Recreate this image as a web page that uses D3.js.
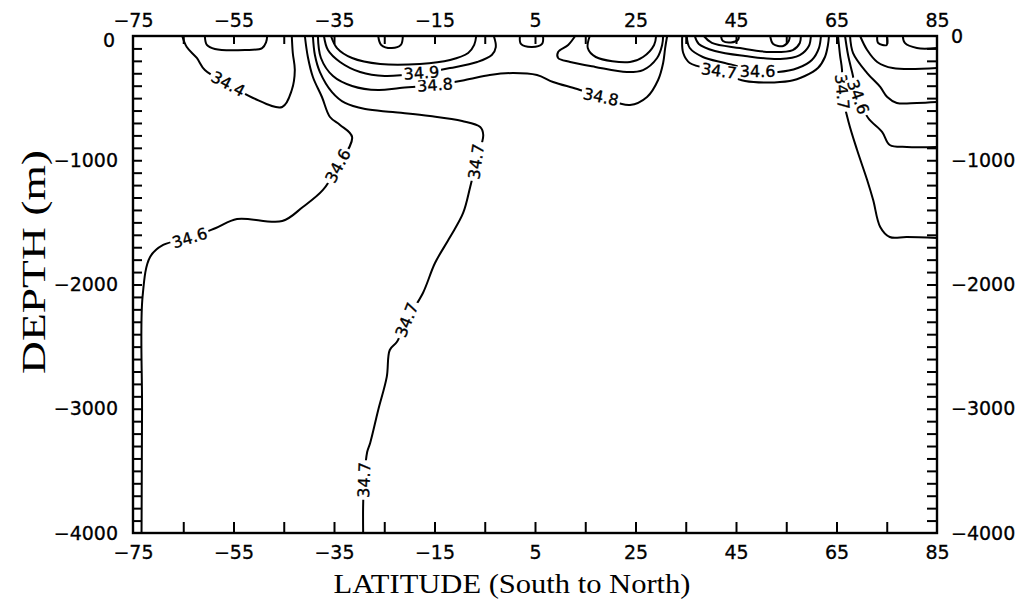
<!DOCTYPE html>
<html>
<head>
<meta charset="utf-8">
<script src="https://cdn.jsdelivr.net/npm/d3@7"></script>
<style>
  html, body { margin: 0; padding: 0; background: #fff; }
  svg { display: block; }
</style>
</head>
<body>
<svg id="chart" width="1025" height="606"></svg>
<script>
// Meridional section of salinity, contoured every 0.1
const latDomain = [-75, 85];
const depthDomain = [-4000, 0];
const latLabelTicks = [-75, -55, -35, -15, 5, 25, 45, 65, 85];
const latMinorTicks = d3.range(-65, 85, 10);
const depthLabelTicks = [0, -1000, -2000, -3000, -4000];
const depthMinorTicks = d3.range(-100, -4000, -100);

// Contour polylines as [latitude, depth (m)]
const c346South = [[-73.3,-4000],[-73.2,-3000],[-73.1,-2100],[-71.6,-1779],[-69.0,-1682],[-63.7,-1626],[-58.5,-1545],[-54.3,-1473],[-45.3,-1489],[-41.2,-1376],[-37.2,-1239],[-34.2,-1046],[-31.4,-813],[-33.8,-716],[-35.8,-652],[-37.4,-491],[-39.2,-330],[-40.2,-169],[-40.8,0]];
const c344South = [[-65.2,0],[-64.3,-89],[-62.3,-177],[-60.7,-274],[-56.1,-386],[-51.1,-499],[-45.3,-571],[-43.4,-435],[-42.8,-274],[-43.2,-137],[-43.4,0]];
const cCellA = [[-60.7,0],[-60.3,-72],[-58.7,-105],[-52.7,-113],[-49.3,-97],[-48.5,-48],[-48.3,0]];
const c347Main = [[-39.2,0],[-38.8,-153],[-37.8,-290],[-35.4,-451],[-32.8,-539],[-28.8,-588],[-23.3,-612],[-15.9,-644],[-9.5,-684],[-5.9,-732],[-5.3,-797],[-6.7,-1010],[-7.9,-1215],[-9.3,-1424],[-11.9,-1618],[-14.9,-1827],[-17.3,-2068],[-20.5,-2286],[-22.5,-2463],[-23.9,-2527],[-24.5,-2744],[-26.2,-3010],[-27.8,-3275],[-28.4,-3348],[-29.0,-3573],[-29.2,-3774],[-29.2,-4000]];
const c348 = [[-38.2,0],[-37.6,-177],[-35.2,-322],[-31.4,-402],[-26.2,-435],[-21.9,-418],[-14.9,-394],[-8.9,-354],[-4.0,-314],[0.6,-298],[5.4,-314],[8.6,-370],[13.4,-427],[18.1,-491],[23.9,-555],[27.3,-491],[29.5,-354],[30.5,-217],[30.9,-97],[31.3,0]];
const c349 = [[-37.0,0],[-36.2,-113],[-33.8,-209],[-29.8,-290],[-24.9,-322],[-17.6,-298],[-11.9,-258],[-6.5,-209],[-3.6,-153],[-2.8,-89],[-3.2,0]];
const c350 = [[-35.6,0],[-34.4,-97],[-31.4,-177],[-25.8,-225],[-17.9,-225],[-11.9,-193],[-8.3,-137],[-7.1,-72],[-6.7,0]];
const cCellB = [[-26.2,0],[-25.6,-72],[-23.5,-97],[-21.7,-72],[-21.3,0]];
const cCellC = [[2.0,0],[2.2,-64],[4.4,-89],[6.4,-64],[6.6,0]];
const cCellD = [[13.0,0],[11.6,-72],[9.6,-129],[9.6,-177],[12.0,-209],[17.0,-249],[23.3,-290],[26.5,-274],[29.3,-177],[30.3,-72],[30.5,0]];
const cCellE = [[15.9,0],[15.5,-97],[17.1,-169],[23.9,-209],[26.5,-169],[28.7,-72],[29.1,0]];
const c347North = [[34.3,0],[34.5,-137],[35.8,-217],[41.6,-282],[46.8,-362],[55.7,-362],[58.7,-322],[61.3,-258],[62.7,-169],[63.3,-72],[63.5,0]];
const c346North = [[35.2,0],[35.8,-97],[38.4,-169],[42.8,-217],[49.3,-282],[53.4,-290],[57.3,-258],[60.1,-193],[61.5,-97],[61.9,0]];
const cNestA = [[36.8,0],[37.6,-64],[40.8,-121],[46.8,-161],[53.8,-185],[57.7,-153],[59.5,-80],[59.9,0]];
const cNestB = [[38.6,0],[40.2,-56],[45.8,-97],[51.8,-129],[56.3,-113],[57.7,-56],[57.9,0]];
const cCellF = [[42.0,0],[42.4,-40],[44.0,-52],[45.4,-30],[45.6,0]];
const cCellG = [[51.8,0],[52.4,-64],[54.4,-80],[55.5,-40],[55.7,0]];
const c347Arctic = [[65.3,0],[65.7,-153],[66.1,-274],[66.1,-451],[67.4,-692],[69.1,-918],[71.1,-1159],[72.3,-1320],[73.7,-1537],[75.6,-1618],[79.0,-1618],[85,-1626]];
const c346Arctic = [[66.7,0],[67.3,-153],[68.1,-290],[69.3,-491],[71.3,-660],[74.1,-773],[75.6,-877],[79.0,-893],[85,-893]];
const c345Arctic = [[67.7,0],[68.3,-137],[71.1,-298],[73.7,-410],[75.1,-491],[77.0,-539],[81.0,-539],[85,-531]];
const c344Arctic = [[69.7,0],[71.1,-113],[73.1,-209],[76.2,-258],[85,-258]];
const cCellH = [[73.1,0],[73.3,-56],[75.0,-72],[75.0,0]];
const c343Arctic = [[78.2,0],[78.6,-56],[81.0,-97],[85,-97]];

const contourLines = [
  c346South, c344South, cCellA, c347Main, c348, c349, c350, cCellB, cCellC,
  cCellD, cCellE, c347North, c346North, cNestA, cNestB, cCellF, cCellG,
  c347Arctic, c346Arctic, c345Arctic, c344Arctic, cCellH, c343Arctic
];

// Inline contour labels: [latitude, depth, text, rotation in degrees]
const contourLabels = [
  [-63.7, -1626, "34.6", -17],
  [-34.2, -1046, "34.6", -62],
  [-56.1, -386, "34.4", 28],
  [-6.7, -1010, "34.7", -82],
  [-20.5, -2286, "34.7", -68],
  [-29.0, -3573, "34.7", -88],
  [-14.9, -394, "34.8", -4],
  [18.1, -491, "34.8", 12],
  [-17.6, -298, "34.9", -4],
  [41.6, -282, "34.7", 8],
  [49.3, -282, "34.6", 0],
  [66.1, -451, "34.7", 85],
  [69.3, -491, "34.6", 70]
];

const svg = d3.select("#chart");
const x = d3.scaleLinear().domain(latDomain).range([133, 937]);
const y = d3.scaleLinear().domain(depthDomain).range([533, 36]);

const line = d3.line()
  .x(d => x(d[0]))
  .y(d => y(d[1]))
  .curve(d3.curveCatmullRom.alpha(0.5));

// contour lines
svg.append("g")
  .selectAll("path")
  .data(contourLines)
  .join("path")
  .attr("d", line)
  .attr("fill", "none")
  .attr("stroke", "#000")
  .attr("stroke-width", 2)
  .attr("stroke-linejoin", "round")
  .attr("stroke-linecap", "round");

// contour labels with a blank backing that breaks the line
const labelSize = 16;
const labels = svg.append("g")
  .selectAll("g")
  .data(contourLabels)
  .join("g")
  .attr("transform", d => `translate(${x(d[0])},${y(d[1])}) rotate(${d[3]})`);
labels.append("text")
  .attr("text-anchor", "middle")
  .attr("dominant-baseline", "central")
  .attr("font-family", "DejaVu Sans, sans-serif")
  .attr("font-size", labelSize)
  .attr("fill", "#000")
  .attr("stroke", "#000")
  .attr("stroke-width", 0.35)
  .text(d => d[2]);
labels.each(function () {
  const g = d3.select(this);
  const bb = g.select("text").node().getBBox();
  g.insert("rect", "text")
    .attr("x", bb.x - 2)
    .attr("y", -labelSize * 0.45)
    .attr("width", bb.width + 4)
    .attr("height", labelSize * 0.9)
    .attr("fill", "#fff");
});

// axes
const tickFont = "DejaVu Sans, sans-serif";
const tickSize = 19;
function styleAxis(g) {
  g.select(".domain").remove();
  g.selectAll(".tick line").attr("stroke", "#000").attr("stroke-width", 2);
  g.selectAll(".tick text").attr("fill", "#000").attr("stroke", "#000").attr("stroke-width", 0.3);
  g.attr("font-family", tickFont).attr("font-size", tickSize);
}

// minor ticks pointing into the frame
svg.append("g").attr("transform", "translate(0,533)")
  .call(d3.axisBottom(x).tickValues(latMinorTicks).tickSize(-11).tickFormat(""))
  .call(styleAxis);
svg.append("g").attr("transform", "translate(0,36)")
  .call(d3.axisTop(x).tickValues(latMinorTicks).tickSize(-8).tickFormat(""))
  .call(styleAxis);
svg.append("g").attr("transform", "translate(133,0)")
  .call(d3.axisLeft(y).tickValues(depthMinorTicks).tickSize(-9).tickFormat(""))
  .call(styleAxis);
svg.append("g").attr("transform", "translate(937,0)")
  .call(d3.axisRight(y).tickValues(depthMinorTicks).tickSize(-10).tickFormat(""))
  .call(styleAxis);

// labelled ticks
svg.append("g").attr("transform", "translate(0,533)")
  .call(d3.axisBottom(x).tickValues(latLabelTicks).tickSize(0).tickPadding(13).tickFormat(d3.format("d")))
  .call(styleAxis);
svg.append("g").attr("transform", "translate(0,36)")
  .call(d3.axisTop(x).tickValues(latLabelTicks).tickSize(0).tickPadding(9).tickFormat(d3.format("d")))
  .call(styleAxis);
const leftLabels = svg.append("g").attr("transform", "translate(133,0)")
  .call(d3.axisLeft(y).tickValues(depthLabelTicks).tickSize(0).tickPadding(15).tickFormat(d3.format("d")))
  .call(styleAxis);
leftLabels.selectAll(".tick").filter(d => d === 0).select("text").attr("dx", -3).attr("y", 4);
svg.append("g").attr("transform", "translate(937,0)")
  .call(d3.axisRight(y).tickValues(depthLabelTicks).tickSize(0).tickPadding(14).tickFormat(d3.format("d")))
  .call(styleAxis);

// frame
svg.append("rect")
  .attr("x", x(latDomain[0])).attr("y", y(depthDomain[1]))
  .attr("width", x(latDomain[1]) - x(latDomain[0]))
  .attr("height", y(depthDomain[0]) - y(depthDomain[1]))
  .attr("fill", "none").attr("stroke", "#000").attr("stroke-width", 2.4);

// axis titles
svg.append("text")
  .attr("x", 512).attr("y", 593)
  .attr("text-anchor", "middle")
  .attr("font-family", "Liberation Serif, serif")
  .attr("font-size", 28)
  .attr("textLength", 357)
  .attr("lengthAdjust", "spacingAndGlyphs")
  .text("LATITUDE (South to North)");
svg.append("text")
  .attr("transform", "translate(45,262) rotate(-90)")
  .attr("text-anchor", "middle")
  .attr("font-family", "Liberation Serif, serif")
  .attr("font-size", 33)
  .attr("textLength", 224)
  .attr("lengthAdjust", "spacingAndGlyphs")
  .text("DEPTH (m)");
</script>
</body>
</html>
